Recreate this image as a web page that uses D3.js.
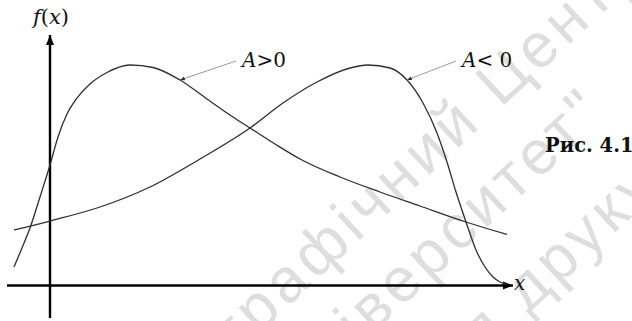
<!DOCTYPE html>
<html>
<head>
<meta charset="utf-8">
<script src="https://cdn.jsdelivr.net/npm/d3@7"></script>
<style>
  html, body { margin: 0; padding: 0; background: #fff; }
  svg { display: block; }
</style>
</head>
<body>
<svg id="chart" width="632" height="321"></svg>
<script>
// Skewed density curves: positive asymmetry (A>0) and negative asymmetry (A<0)
const skewPosX = [-7.88, -6.13, -4.38, -2.19, 0, 1.75, 3.72, 5.91, 8.75, 12.47, 17.51, 22.54, 28.45, 34.35, 40.04, 43.76, 49.23, 54.7, 63.46, 72.21, 80.96, 91.03, 100];
const skewPosF = [8.39, 17.01, 26.08, 40.14, 54.65, 67.35, 77.78, 85.03, 91.38, 96.6, 100, 98.87, 93.2, 84.58, 76.42, 71.43, 64.17, 57.37, 49.21, 42.4, 36.05, 28.8, 23.13];

const skewNegX = [-7.88, 0, 10.94, 21.88, 32.82, 43.76, 50.98, 58.42, 65.65, 69.58, 74.4, 78.12, 81.62, 84.68, 86.87, 88.84, 91.03, 93.22, 95.19, 96.94, 98.47, 100];
const skewNegF = [25.17, 29.25, 35.6, 44.67, 57.37, 71.43, 82.77, 92.29, 98.64, 100, 98.64, 93.2, 82.77, 69.16, 56.01, 42.4, 28.8, 16.1, 8.39, 3.85, 1.59, 0.45];

// Curve captions and the curve points their leader lines touch
const curveLabels = ["A>0", "A< 0"];
const leaderTargets = [[28.45, 93.2], [78.12, 93.2]];
const axisLabels = ["f(x)", "x"];
const figureCaption = "Рис. 4.1";
const watermarkLines = ["Видавничо-поліграфічний Центр", "Київський університет\"", "Не для друку"];

const svg = d3.select("#chart");

const x = d3.scaleLinear().domain([0, 100]).range([50, 507]);
const y = d3.scaleLinear().domain([0, 100]).range([285.5, 65]);

// faint diagonal watermark behind the figure; each line is placed by one of its letters
const wmAngle = -43;
const wmSize = 62;
const wmPins = [[16, 290, 282], [16, 460, 230], [9, 588, 235]];
const wm = svg.append("g")
  .attr("fill", "#dedede")
  .attr("font-family", "'Liberation Sans', Arial, sans-serif")
  .attr("font-size", wmSize)
  .attr("letter-spacing", 5);
watermarkLines.forEach((t, i) => {
  const g = wm.append("g");
  const txt = g.append("text").attr("x", 0).attr("y", 0).text(t);
  const [ci, px, py] = wmPins[i];
  const ext = txt.node().getExtentOfChar(ci);
  const lx = ext.x + ext.width / 2, ly = -0.27 * wmSize;
  const a = wmAngle * Math.PI / 180;
  const rx = lx * Math.cos(a) - ly * Math.sin(a);
  const ry = lx * Math.sin(a) + ly * Math.cos(a);
  g.attr("transform", `translate(${px - rx},${py - ry}) rotate(${wmAngle})`);
});

const defs = svg.append("defs");
defs.append("marker")
  .attr("id", "axisArrow")
  .attr("viewBox", "0 0 10 10")
  .attr("refX", 10).attr("refY", 5)
  .attr("markerWidth", 10).attr("markerHeight", 10)
  .attr("markerUnits", "userSpaceOnUse")
  .attr("orient", "auto")
  .append("path").attr("d", "M0,1 L10,5 L0,9 Z").attr("fill", "#000");
defs.append("marker")
  .attr("id", "leaderArrow")
  .attr("viewBox", "0 0 10 10")
  .attr("refX", 10).attr("refY", 5)
  .attr("markerWidth", 5).attr("markerHeight", 5)
  .attr("markerUnits", "userSpaceOnUse")
  .attr("orient", "auto")
  .append("path").attr("d", "M0,1 L10,5 L0,9 Z").attr("fill", "#333");

// axes with arrowheads
svg.append("line")
  .attr("x1", x(0)).attr("y1", 318)
  .attr("x2", x(0)).attr("y2", 35)
  .attr("stroke", "#000").attr("stroke-width", 2.4)
  .attr("marker-end", "url(#axisArrow)");
svg.append("line")
  .attr("x1", 7).attr("y1", y(0))
  .attr("x2", 513).attr("y2", y(0))
  .attr("stroke", "#000").attr("stroke-width", 2.4)
  .attr("marker-end", "url(#axisArrow)");

const line = d3.line()
  .x(d => x(d[0]))
  .y(d => y(d[1]))
  .curve(d3.curveMonotoneX);

const curves = [
  d3.zip(skewPosX, skewPosF),
  d3.zip(skewNegX, skewNegF)
];
svg.selectAll("path.curve")
  .data(curves)
  .join("path")
  .attr("class", "curve")
  .attr("d", line)
  .attr("fill", "none")
  .attr("stroke", "#2e2e2e")
  .attr("stroke-width", 1.3);

const serif = "'DejaVu Serif', 'Liberation Serif', serif";

// leader lines from captions to curves
const labelPos = [[242, 67], [462, 67]];
leaderTargets.forEach((t, i) => {
  svg.append("line")
    .attr("x1", labelPos[i][0] - 6).attr("y1", labelPos[i][1] - 6)
    .attr("x2", x(t[0])).attr("y2", y(t[1]))
    .attr("stroke", "#9a9a9a").attr("stroke-width", 1)
    .attr("marker-end", "url(#leaderArrow)");
});

curveLabels.forEach((lab, i) => {
  const t = svg.append("text")
    .attr("x", labelPos[i][0]).attr("y", labelPos[i][1])
    .attr("font-family", serif).attr("font-size", 20).attr("fill", "#111");
  t.append("tspan").attr("font-style", "italic").text(lab[0]);
  t.append("tspan").text(lab.slice(1));
});

// f(x) over the vertical axis
const fx = svg.append("text")
  .attr("x", 33).attr("y", 24)
  .attr("font-family", serif).attr("font-size", 21).attr("fill", "#111");
fx.append("tspan").attr("font-style", "italic").text(axisLabels[0][0]);
fx.append("tspan").text("(");
fx.append("tspan").attr("font-style", "italic").text(axisLabels[0][2]);
fx.append("tspan").text(")");

svg.append("text")
  .attr("x", 514).attr("y", 290)
  .attr("font-family", serif).attr("font-size", 20)
  .attr("font-style", "italic").attr("fill", "#111")
  .text(axisLabels[1]);

svg.append("text")
  .attr("x", 545).attr("y", 152)
  .attr("font-family", serif).attr("font-size", 19.5)
  .attr("font-weight", "bold").attr("fill", "#111")
  .text(figureCaption);
</script>
</body>
</html>
